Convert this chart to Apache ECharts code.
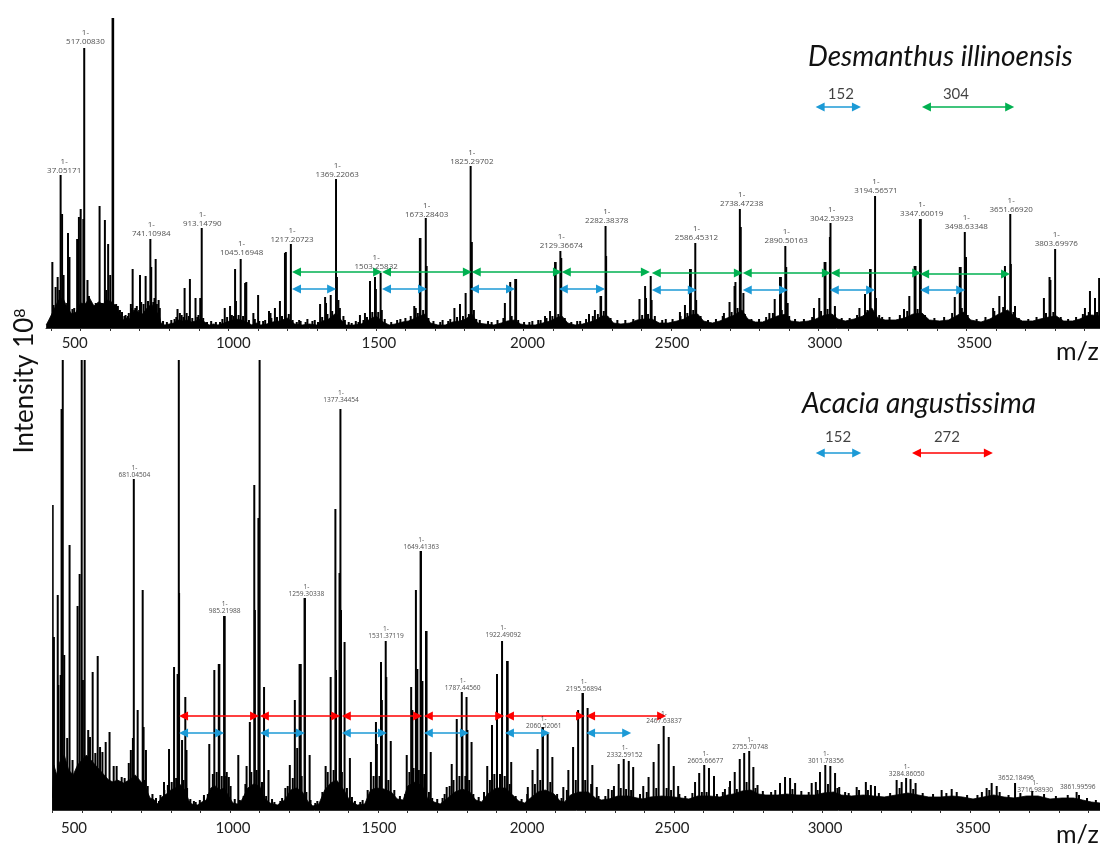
<!DOCTYPE html>
<html><head><meta charset="utf-8">
<script src="https://cdn.jsdelivr.net/npm/echarts@6/dist/echarts.min.js"></script>
<style>html,body{margin:0;padding:0;background:#fff}#c{width:1100px;height:845px}</style></head>
<body><div id="c"></div>
<script>
const topPeakMz=[404,408,415,422,428,432,437,442,454,457,462,472,478,488,494,500,509,512,523,528,540,551,564,572,582,587,593,600,608,610,620,626,633,648,660,670,676,685,701,705,720,730,736,739,746,754,764,828,836,852,859,870,889,905,910,988,1006,1023,1026,1042,1057,1061,1085,1101,1138,1143,1158,1175,1192,1195,1212,1240,1311,1328,1331,1347,1365,1368,1373,1390,1446,1463,1480,1497,1500,1516,1520,1630,1635,1649,1651,1669,1672,1766,1785,1804,1821,1825,1832,1937,1955,1972,1975,2073,2090,2107,2109,2125,2128,2222,2242,2261,2263,2278,2280,2393,2412,2415,2431,2434,2530,2547,2564,2567,2582,2585,2679,2698,2715,2718,2733,2736,2745,2833,2851,2869,2872,2887,2890,2895,2984,3002,3020,3023,3038,3040,3055,3138,3157,3174,3176,3191,3194,3289,3307,3325,3328,3343,3346,3461,3478,3481,3495,3499,3591,3612,3631,3649,3651,3665,3763,3782,3785,3801,3902,3919,3936,3950];
const topPeakH=[66,23,41,51,38,153,114,53,25,95,71,19,20,89,111,119,109,280,48,32,23,25,122,25,108,38,84,53,310,310,24,22,18,12,12,24,59,20,53,26,52,20,89,61,26,69,28,19,15,40,15,49,30,30,100,20,22,59,27,69,45,46,15,33,17,15,20,27,75,76,84,8,24,31,25,33,149,51,28,12,13,15,47,51,39,55,18,22,20,90,90,110,62,20,24,35,162,86,18,25,46,49,49,12,17,66,66,77,70,14,18,32,32,102,72,29,42,30,52,28,16,23,59,59,85,28,15,26,42,46,119,101,35,15,29,51,51,82,61,25,20,30,66,66,91,105,22,20,34,59,59,132,30,19,32,62,62,109,109,31,61,61,96,71,20,32,62,114,64,22,30,51,48,79,20,37,30,50];
const topGrassMz=[640,652,663,672,690,698,713,728,750,758,768,779,792,807,818,824,842,848,866,878,895,899,915,928,942,958,972,980,996,1012,1018,1035,1050,1070,1090,1105,1118,1125,1146,1165,1182,1205,1218,1232,1245,1262,1268,1285,1293,1304,1318,1336,1352,1378,1395,1408,1418,1432,1441,1458,1470,1488,1508,1530,1552,1572,1583,1600,1618,1642,1660,1678,1695,1718,1726,1745,1752,1775,1795,1815,1840,1852,1880,1892,1912,1932,1960,1982,2002,2020,2030,2050,2058,2078,2098,2118,2140,2162,2182,2192,2212,2235,2252,2272,2295,2318,2345,2372,2402,2422,2445,2470,2482,2505,2532,2555,2575,2600,2625,2652,2675,2705,2725,2750,2772,2798,2822,2845,2875,2900,2920,2950,2978,3008,3030,3055,3078,3105,3130,3165,3205,3215,3240,3275,3300,3335,3360,3392,3425,3452,3485,3505,3535,3565,3595,3625,3660,3678,3710,3738,3770,3795,3820,3845,3872,3895,3915,3943];
const topGrassH=[16,13,15,20,22,18,24,27,30,24,20,7,6,8,9,11,13,11,12,10,11,13,10,6,7,6,6,9,11,13,12,13,12,8,9,7,7,8,10,11,12,14,8,6,7,6,9,7,8,6,11,14,17,20,8,6,5,7,6,8,11,16,16,9,6,8,9,10,12,15,18,10,7,6,8,7,9,11,12,14,9,8,7,6,8,10,12,8,6,6,7,8,8,10,12,14,10,6,7,7,9,12,14,17,10,8,8,9,13,14,12,8,9,9,12,15,18,12,8,9,12,16,20,14,9,9,11,15,18,12,9,9,11,17,19,14,10,10,13,18,13,11,11,13,17,19,13,10,11,15,20,13,9,11,17,21,16,10,9,11,15,16,11,9,11,14,16,16];
const topBaseMz=[383,392,402,412,425,440,455,470,485,500,515,530,545,560,575,590,605,620,632,645,655,668,680,695,710,725,740,755,765,772,785,800,815,830,845,860,875,890,905,920,935,950,965,985,1005,1025,1045,1062,1080,1095,1110,1130,1150,1175,1200,1225,1250,1275,1300,1320,1340,1365,1385,1400,1425,1450,1475,1500,1525,1545,1565,1590,1610,1635,1665,1685,1710,1735,1760,1785,1805,1825,1845,1870,1900,1925,1945,1970,1990,2010,2040,2065,2090,2110,2130,2150,2175,2200,2225,2245,2265,2285,2305,2330,2360,2385,2410,2435,2460,2490,2520,2545,2565,2590,2610,2640,2665,2690,2715,2740,2760,2785,2810,2835,2860,2890,2905,2935,2965,2990,3020,3045,3065,3090,3120,3150,3180,3200,3225,3260,3290,3320,3350,3375,3410,3440,3465,3490,3515,3550,3580,3610,3640,3665,3690,3725,3750,3780,3805,3830,3860,3885,3905,3925,3953];
const topBaseH=[3,8,14,20,28,30,20,14,16,25,24,30,22,26,24,28,26,22,14,8,10,9,18,16,14,20,24,16,14,5,3,4,5,8,7,8,6,7,9,6,3,4,3,5,7,9,8,6,3,5,3,4,6,7,10,4,3,4,3,7,9,15,7,3,3,4,8,12,6,3,4,6,7,10,14,5,3,3,6,7,9,14,5,4,3,5,7,8,4,3,3,5,7,10,12,5,3,4,6,8,12,12,5,4,5,8,9,9,5,5,7,9,13,14,7,5,7,10,13,18,9,6,6,9,12,14,7,6,7,9,13,14,9,7,9,12,20,10,8,8,10,14,15,8,7,8,12,16,8,6,9,14,18,11,7,7,9,11,12,7,7,9,12,13,12];
const topLabelMz=[444,516,739,912,1045,1216,1369,1501,1672,1825,2128,2282,2586,2739,2890,3044,3194,3349,3500,3652,3805];
const topLabelH=[153,282,90,100,71,84,149,57,109,162,78,103,86,120,83,105,133,110,97,114,80];
const topLabelText=["37.05171","517.00830","741.10984","913.14790","1045.16948","1217.20723","1369.22063","1503.25832","1673.28403","1825.29702","2129.36674","2282.38378","2586.45312","2738.47238","2890.50163","3042.53923","3194.56571","3347.60019","3498.63348","3651.66920","3803.69976"];
const topGreenFrom=[1216,1521,1825,2130,2435,2743,3041,3344];
const topGreenTo=[1521,1825,2130,2428,2743,3041,3347,3648];
const topGreenH=[56,56,56,56,55,55,55,54];
const topBlueFrom=[1216,1521,1819,2120,2435,2743,3038,3344];
const topBlueTo=[1365,1673,1971,2276,2587,2896,3191,3496];
const topBlueH=[39,39,39,39,38,38,38,38];

const botPeakMz=[401,405,418,420,428,431,435,440,450,458,468,485,492,499,509,503,521,527,536,545,553,561,569,580,593,607,617,634,644,658,665,672,675,688,705,708,716,777,794,811,823,827,828,838,849,853,912,930,947,962,964,980,982,989,996,1028,1056,1067,1082,1084,1096,1100,1115,1130,1187,1202,1219,1227,1235,1239,1252,1253,1269,1323,1340,1356,1358,1370,1373,1375,1387,1405,1476,1493,1496,1510,1513,1526,1528,1543,1597,1612,1616,1628,1630,1633,1644,1645,1650,1662,1664,1678,1732,1749,1766,1783,1785,1799,1802,1816,1869,1885,1902,1919,1936,1938,1950,2006,2022,2039,2056,2057,2073,2089,2126,2143,2159,2176,2191,2192,2208,2224,2239,2278,2297,2313,2330,2347,2362,2396,2414,2431,2448,2465,2482,2499,2514,2571,2585,2602,2618,2635,2687,2672,2689,2705,2722,2737,2754,2768,2782,2858,2875,2892,2909,2965,2979,2993,3011,3028,3044,3058,3117,3148,3165,3179,3252,3269,3284,3299,3316,3404,3438,3540,3556,3573,3590,3652,3860];
const botPeakH=[305,173,215,125,135,401,460,155,72,265,50,204,236,460,460,130,80,73,138,57,154,63,58,68,78,44,44,33,32,47,60,72,331,100,220,83,60,28,61,143,136,460,217,70,113,60,15,66,140,146,146,194,194,38,33,55,44,88,325,200,292,460,123,40,22,45,110,62,146,146,212,212,55,44,133,301,140,237,401,200,168,52,48,88,66,148,110,169,133,69,55,123,100,220,120,141,259,259,129,179,179,58,23,46,91,118,80,113,80,68,44,85,136,169,149,149,48,23,40,61,83,83,76,53,23,40,63,100,117,117,102,45,23,21,24,46,51,49,43,24,33,48,66,84,73,44,24,28,37,45,42,34,23,21,29,38,51,57,59,43,25,27,33,32,27,27,28,38,45,44,37,23,23,28,25,24,30,28,32,31,27,20,21,18,22,27,24,27,18];
const botGrassMz=[712,722,738,750,760,765,778,790,803,818,843,855,866,878,884,898,912,925,942,955,972,987,1002,1016,1033,1046,1052,1072,1090,1108,1122,1142,1150,1170,1176,1195,1212,1242,1258,1272,1288,1295,1312,1330,1350,1378,1395,1412,1422,1440,1448,1465,1485,1505,1535,1555,1574,1592,1606,1620,1638,1656,1672,1683,1700,1718,1725,1742,1755,1775,1795,1808,1822,1840,1858,1878,1893,1912,1928,1945,1965,1985,2004,2030,2048,2082,2105,2120,2138,2168,2200,2220,2245,2268,2290,2320,2338,2355,2385,2408,2440,2475,2490,2518,2538,2562,2594,2610,2645,2665,2712,2745,2775,2800,2828,2842,2900,2930,2955,2985,3020,3052,3078,3090,3125,3155,3192,3230,3262,3308,3340,3375,3420,3455,3490,3525,3565,3600,3630,3670,3710,3750,3790,3830,3868,3895,3925];
const botGrassH=[30,24,16,12,9,15,20,25,28,32,30,22,11,9,8,10,13,16,36,38,34,34,24,11,10,14,26,38,40,28,14,11,8,9,12,24,32,34,18,10,7,9,18,38,40,38,22,13,9,8,10,20,34,34,30,20,14,16,38,42,40,36,18,12,11,12,16,24,30,34,34,30,16,13,18,30,36,36,34,26,14,11,16,26,30,28,16,12,20,30,30,26,14,14,20,22,21,20,16,18,22,22,20,16,14,17,18,18,16,18,21,28,22,19,18,20,21,19,18,20,26,22,18,17,20,20,17,17,22,21,17,16,17,18,15,15,20,18,15,17,19,16,14,15,15,12,10];
const botBaseMz=[400,405,415,425,440,455,470,485,500,515,530,545,560,575,590,605,620,640,660,680,700,715,730,745,755,770,785,800,815,830,848,860,870,890,905,920,935,950,965,980,995,1010,1025,1040,1060,1080,1100,1115,1135,1160,1185,1205,1225,1245,1262,1280,1300,1320,1340,1360,1385,1405,1430,1455,1475,1495,1520,1545,1565,1585,1600,1625,1650,1668,1690,1710,1735,1760,1785,1810,1830,1850,1870,1900,1930,1955,1975,1995,2015,2040,2065,2095,2115,2130,2150,2180,2210,2235,2255,2280,2310,2345,2375,2395,2420,2460,2500,2525,2550,2580,2620,2655,2680,2700,2730,2760,2785,2810,2850,2880,2915,2945,2975,3005,3040,3065,3100,3140,3175,3210,3250,3290,3325,3360,3400,3440,3475,3510,3545,3580,3615,3650,3690,3730,3770,3810,3850,3880,3910,3939];
const botBaseH=[12,45,35,48,55,40,35,45,50,55,50,45,40,35,30,28,30,27,30,35,28,22,12,10,6,13,16,20,22,26,20,10,6,5,8,10,22,24,20,22,14,7,6,10,22,26,24,12,7,5,10,20,22,18,9,4,6,20,27,30,20,9,5,6,20,22,21,18,11,10,24,28,24,11,8,6,12,18,21,18,10,8,16,22,22,15,9,7,12,18,20,16,9,8,15,18,18,12,10,11,14,14,12,11,13,14,13,12,11,14,14,13,15,16,19,20,16,15,15,16,15,15,15,17,18,15,14,15,14,13,15,17,15,13,13,14,13,11,13,15,13,12,14,14,11,12,12,10,8,7];
const botLabelMz=[677,982,1258,1375,1527,1646,1786,1923,2060,2195,2333,2466,2606,2757,3013,3286,3655,3720,3864];
const botLabelH=[331,195,212,406,170,259,118,171,80,117,51,85,45,59,45,32,28,16,19];
const botLabelText=["1-\n681.04504","1-\n985.21988","1-\n1259.30338","1-\n1377.34454","1-\n1531.37119","1-\n1649.41363","1-\n1787.44560","1-\n1922.49092","1-\n2060.52061","1-\n2195.56894","1-\n2332.59152","1-\n2467.63837","1-\n2605.66677","1-\n2755.70748","1-\n3011.78356","1-\n3284.86050","3652.18496","1-\n3716.98930","3861.99596"];
const botRedFrom=[828,1101,1378,1655,1929,2203];
const botRedTo=[1098,1372,1649,1926,2199,2473];
const botRedH=[94,94,94,94,94,94];
const botBlueFrom=[828,1101,1378,1655,1929,2203];
const botBlueTo=[980,1253,1530,1807,2081,2355];
const botBlueH=[77,77,77,77,77,77];

const tickMz=[400,500,600,700,800,900,1000,1100,1200,1300,1400,1500,1600,1700,1800,1900,2000,2100,2200,2300,2400,2500,2600,2700,2800,2900,3000,3100,3200,3300,3400,3500,3600,3700,3800,3900];
const labelMz=[500,1000,1500,2000,2500,3000,3500];
const topLabelNudge=[-6,5,3,4,1,6,8];
const botLabelNudge=[-8,3,1,1,-2,3,3];

const BLUE='#1C9AD6',GREEN='#00B050',RED='#FF0000';
const INSET=15;
const FONT='Lato';

function zip(a,b){return a.map((v,i)=>[v,b[i]]);}
function arrows(from,to,h,inset){
  return from.map((s,i)=>[{coord:[s+inset,h[i]]},{coord:[to[i]-inset,h[i]]}]);
}
function arrowSeries(x,y,name,from,to,h,color){
  return {type:'line',name,xAxisIndex:x,yAxisIndex:y,data:[],silent:true,
    markLine:{silent:true,animation:false,symbol:['triangle','triangle'],symbolSize:[9,9],
      lineStyle:{color,width:1.6,type:'solid'},itemStyle:{color},label:{show:false},
      emphasis:{disabled:true},data:arrows(from,to,h,inset=INSET)}};
}
function richLabels(nudge){
  const rich={};
  nudge.forEach((d,i)=>{
    rich['n'+i]={fontFamily:FONT,fontSize:15,color:'#222',padding:d>=0?[0,0,0,2*d]:[0,-2*d,0,0]};
  });
  return rich;
}
function xAxis(grid,min,max,nudge,margin){
  return {type:'value',gridIndex:grid,min,max,
    splitLine:{show:false},
    axisLine:{show:true,lineStyle:{color:'#333',width:1}},
    axisTick:{show:true,length:3,customValues:tickMz,lineStyle:{color:'#333',width:1}},
    axisLabel:{show:true,margin,customValues:labelMz,hideOverlap:false,
      formatter:(v)=>{const i=labelMz.indexOf(v);return '{n'+i+'|'+v+'}';},
      rich:richLabels(nudge)}};
}
function yAxis(grid,max){
  return {type:'value',gridIndex:grid,min:0,max,show:false,splitLine:{show:false}};
}
function spectrum(x,name,baseMz,baseH,peakMz,peakH,grassMz,grassH){
  return [
    {type:'line',name:name+' baseline',xAxisIndex:x,yAxisIndex:x,data:zip(baseMz,baseH),showSymbol:false,symbol:'none',
     lineStyle:{color:'#000',width:0.8},areaStyle:{color:'#000',opacity:1},silent:true,z:2,clip:true},
    {type:'bar',name:name+' grass',xAxisIndex:x,yAxisIndex:x,data:zip(grassMz,grassH),barWidth:2,barGap:'-100%',
     itemStyle:{color:'#000'},silent:true,z:3,clip:true},
    {type:'bar',name:name+' peaks',xAxisIndex:x,yAxisIndex:x,data:zip(peakMz,peakH),barWidth:2,barGap:'-100%',
     itemStyle:{color:'#000'},silent:true,z:3,clip:true}
  ];
}
function peakLabels(x,name,mz,h,text,size){
  return {type:'scatter',name:name+' labels',xAxisIndex:x,yAxisIndex:x,symbolSize:0,silent:true,z:6,
    data:mz.map((m,i)=>({value:[m,h[i]],name:text[i]})),
    label:{show:true,position:'top',distance:0,formatter:p=>p.name,align:'center',
      fontFamily:'Open Sans',fontSize:size,lineHeight:size+0.8,color:'#222'}};
}
function noteLabels(x,xs,h,text){
  return {type:'scatter',name:'spacing labels',xAxisIndex:x,yAxisIndex:x,symbolSize:0,silent:true,z:6,
    data:xs.map((m,i)=>({value:[m,h],name:text[i]})),
    label:{show:true,position:'inside',formatter:p=>p.name,fontFamily:FONT,fontSize:15,color:'#111'}};
}
const chart=echarts.init(document.getElementById('c'),null,{renderer:'canvas'});
chart.setOption({
  animation:false,backgroundColor:'#fff',
  grid:[{left:46,right:0,top:18,height:310},{left:52.4,right:0,top:360,height:450}],
  xAxis:[xAxis(0,382.5,3953,topLabelNudge,8),xAxis(1,400,3939,botLabelNudge,11)],
  yAxis:[yAxis(0,310),yAxis(1,450)],
  series:[
    ...spectrum(0,'Desmanthus illinoensis',topBaseMz,topBaseH,topPeakMz,topPeakH,topGrassMz,topGrassH),
    ...spectrum(1,'Acacia angustissima',botBaseMz,botBaseH,botPeakMz,botPeakH,botGrassMz,botGrassH),
    peakLabels(0,'top',topLabelMz,topLabelH,topLabelText.map(t=>'1-\n'+t),8),
    peakLabels(1,'bottom',botLabelMz,botLabelH,botLabelText,6.6),
    arrowSeries(0,0,'304 spacing',topGreenFrom,topGreenTo,topGreenH,GREEN),
    arrowSeries(0,0,'152 spacing',topBlueFrom,topBlueTo,topBlueH,BLUE),
    arrowSeries(1,1,'272 spacing',botRedFrom,botRedTo,botRedH,RED),
    arrowSeries(1,1,'152 spacing b',botBlueFrom,botBlueTo,botBlueH,BLUE),
    arrowSeries(0,0,'key 152',[2990],[3143],[221],BLUE),
    arrowSeries(0,0,'key 304',[3350],[3662],[221],GREEN),
    arrowSeries(1,1,'key 152 b',[2979],[3132],[357],BLUE),
    arrowSeries(1,1,'key 272',[3304],[3577],[357],RED),
    noteLabels(0,[3075,3465],234,['152','304']),
    noteLabels(1,[3054,3422],373,['152','272'])
  ],
  graphic:[
    {type:'text',left:808,top:43,silent:true,style:{text:'Desmanthus illinoensis',font:'italic 28px Lato',fill:'#111'}},
    {type:'text',left:802,top:390,silent:true,style:{text:'Acacia angustissima',font:'italic 28px Lato',fill:'#111'}},
    {type:'text',left:1056,top:339,silent:true,style:{text:'m/z',font:'25px Lato',fill:'#111'}},
    {type:'text',left:1056,top:822,silent:true,style:{text:'m/z',font:'25px Lato',fill:'#111'}},
    {type:'text',x:25,y:381,rotation:Math.PI/2,silent:true,
      style:{text:'Intensity 10{s|8}',font:'26px Lato',fill:'#111',align:'center',verticalAlign:'middle',
        rich:{s:{fontFamily:'Lato',fontSize:16,verticalAlign:'top',fill:'#111'}}}}
  ]
});
</script></body></html>
